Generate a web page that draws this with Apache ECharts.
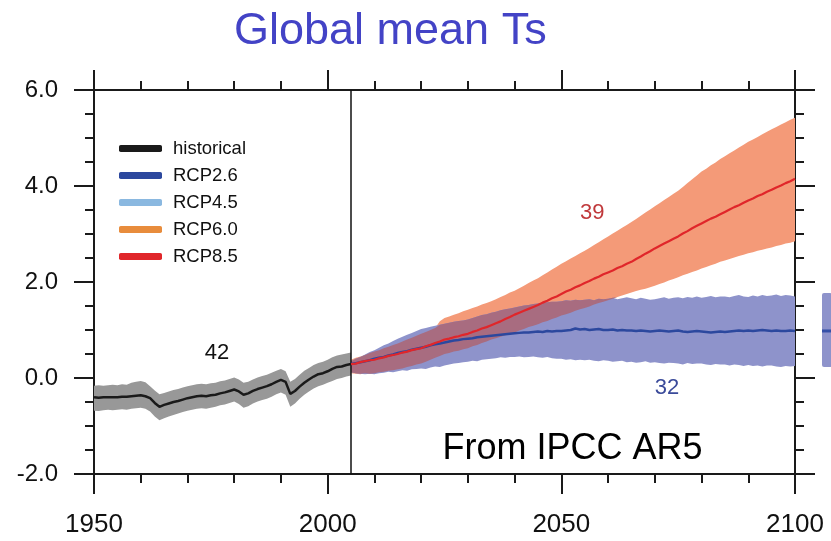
<!DOCTYPE html>
<html><head><meta charset="utf-8">
<script src="https://cdn.jsdelivr.net/npm/echarts@6/dist/echarts.min.js"></script>
<style>html,body{margin:0;padding:0;background:#fff}#c{width:831px;height:541px}</style>
</head><body><div id="c"></div>
<script>
// ---------- data ----------
const histStart = 1950;   // historical: 1950..2005 annual
const projStart = 2005;   // projections: 2005..2100 annual
const dividerYear = 2005;

const histMean = [
 -0.40,-0.41,-0.40,-0.40,-0.40, -0.40,-0.39,-0.39,-0.38,-0.37,
 -0.36,-0.38,-0.42,-0.52,-0.60, -0.56,-0.53,-0.50,-0.48,-0.45,
 -0.42,-0.40,-0.38,-0.37,-0.38, -0.36,-0.35,-0.32,-0.30,-0.27,
 -0.24,-0.28,-0.35,-0.32,-0.27, -0.23,-0.20,-0.17,-0.13,-0.08,
 -0.04,-0.08,-0.33,-0.27,-0.18, -0.10,-0.03, 0.03, 0.08, 0.10,
  0.14, 0.19, 0.23, 0.24, 0.27,  0.29];
const histLo = [
 -0.68,-0.69,-0.67,-0.66,-0.67, -0.66,-0.65,-0.66,-0.64,-0.63,
 -0.62,-0.64,-0.70,-0.80,-0.88, -0.84,-0.80,-0.77,-0.74,-0.71,
 -0.68,-0.66,-0.64,-0.63,-0.64, -0.62,-0.60,-0.57,-0.55,-0.52,
 -0.49,-0.54,-0.62,-0.59,-0.53, -0.49,-0.46,-0.43,-0.39,-0.34,
 -0.30,-0.35,-0.60,-0.53,-0.43, -0.35,-0.28,-0.22,-0.17,-0.14,
 -0.10,-0.06,-0.02, 0.00, 0.03,  0.05];
const histHi = [
 -0.16,-0.15,-0.16,-0.15,-0.14, -0.15,-0.13,-0.14,-0.10,-0.08,
 -0.06,-0.09,-0.17,-0.26,-0.34, -0.31,-0.28,-0.25,-0.23,-0.20,
 -0.17,-0.15,-0.13,-0.12,-0.13, -0.11,-0.10,-0.07,-0.05,-0.02,
  0.01,-0.03,-0.10,-0.08,-0.03,  0.01, 0.04, 0.07, 0.11, 0.15,
  0.19, 0.14,-0.08,-0.02, 0.07,  0.15, 0.21, 0.27, 0.31, 0.34,
  0.38, 0.43, 0.47, 0.49, 0.51,  0.53];

const r85Mean = [
 0.29,0.30,0.33,0.35,0.37, 0.38,0.41,0.43,0.46,0.48,
 0.50,0.53,0.55,0.58,0.60, 0.62,0.66,0.69,0.73,0.76,
 0.80,0.82,0.85,0.87,0.90, 0.92,0.96,0.99,1.03,1.06,
 1.10,1.14,1.18,1.23,1.27, 1.32,1.36,1.40,1.44,1.48,
 1.52,1.57,1.61,1.66,1.70, 1.75,1.80,1.84,1.89,1.93,
 1.98,2.02,2.07,2.11,2.16, 2.20,2.24,2.29,2.33,2.38,
 2.42,2.48,2.53,2.59,2.64, 2.70,2.75,2.80,2.85,2.90,
 2.95,3.01,3.06,3.12,3.17, 3.22,3.27,3.32,3.36,3.41,
 3.46,3.51,3.56,3.60,3.65, 3.70,3.74,3.79,3.83,3.88,
 3.92,3.97,4.01,4.06,4.10, 4.15];
const r85Hi = [
 0.38,0.42,0.45,0.48,0.52, 0.55,0.58,0.62,0.65,0.69,
 0.72,0.76,0.80,0.84,0.88, 0.92,0.96,1.00,1.04,1.18,
 1.25,1.28,1.32,1.35,1.39, 1.42,1.46,1.49,1.53,1.56,
 1.60,1.64,1.69,1.73,1.78, 1.82,1.87,1.92,1.98,2.03,
 2.08,2.14,2.20,2.26,2.32, 2.38,2.43,2.49,2.54,2.60,
 2.65,2.71,2.77,2.83,2.89, 2.95,3.01,3.07,3.13,3.19,
 3.25,3.31,3.38,3.45,3.51, 3.58,3.64,3.71,3.77,3.84,
 3.90,3.98,4.06,4.14,4.22, 4.30,4.36,4.43,4.49,4.56,
 4.62,4.68,4.74,4.80,4.86, 4.92,4.97,5.02,5.08,5.13,
 5.18,5.23,5.28,5.33,5.38, 5.42];
const r85Lo = [
 0.10,0.09,0.08,0.10,0.09, 0.10,0.12,0.13,0.15,0.16,
 0.18,0.20,0.23,0.25,0.28, 0.30,0.34,0.38,0.42,0.46,
 0.50,0.52,0.55,0.57,0.60, 0.62,0.66,0.69,0.73,0.76,
 0.80,0.83,0.86,0.89,0.92, 0.95,0.99,1.02,1.06,1.09,
 1.12,1.16,1.19,1.23,1.26, 1.30,1.33,1.36,1.40,1.43,
 1.46,1.49,1.53,1.56,1.59, 1.62,1.65,1.69,1.72,1.75,
 1.78,1.81,1.84,1.86,1.89, 1.92,1.96,1.99,2.03,2.06,
 2.10,2.14,2.17,2.21,2.24, 2.28,2.31,2.35,2.38,2.42,
 2.45,2.48,2.51,2.54,2.57, 2.60,2.62,2.65,2.67,2.70,
 2.72,2.75,2.77,2.80,2.82, 2.85];

const r26Mean = [
 0.29,0.31,0.33,0.35,0.37, 0.40,0.42,0.44,0.47,0.49,
 0.52,0.54,0.56,0.59,0.61, 0.63,0.65,0.68,0.70,0.72,
 0.74,0.76,0.78,0.79,0.81, 0.82,0.83,0.85,0.86,0.87,
 0.88,0.89,0.90,0.91,0.92, 0.93,0.94,0.95,0.95,0.96,
 0.97,0.96,0.98,0.97,0.98, 0.98,0.99,1.00,1.03,1.01,
 1.02,1.00,1.01,1.02,1.00, 1.00,1.01,0.99,1.00,0.99,
 0.99,0.98,0.99,0.98,0.97, 0.98,0.99,0.98,0.97,0.98,
 0.99,0.97,0.96,0.97,0.98, 0.97,0.96,0.95,0.96,0.97,
 0.96,0.97,0.98,0.99,0.98, 0.99,0.98,0.99,1.00,0.99,
 0.98,0.99,0.98,0.98,0.99, 0.98];
const r26Hi = [
 0.35,0.40,0.44,0.49,0.54, 0.58,0.63,0.68,0.72,0.77,
 0.82,0.86,0.90,0.94,0.98, 1.02,1.04,1.07,1.09,1.11,
 1.13,1.15,1.17,1.19,1.20, 1.22,1.25,1.28,1.31,1.33,
 1.36,1.38,1.41,1.43,1.45, 1.47,1.49,1.51,1.52,1.54,
 1.55,1.57,1.58,1.59,1.59, 1.60,1.62,1.61,1.63,1.62,
 1.63,1.64,1.62,1.65,1.64, 1.65,1.67,1.64,1.66,1.68,
 1.66,1.64,1.67,1.65,1.63, 1.64,1.66,1.68,1.65,1.67,
 1.68,1.66,1.69,1.67,1.70, 1.67,1.69,1.71,1.68,1.70,
 1.70,1.68,1.71,1.73,1.70, 1.69,1.72,1.70,1.73,1.71,
 1.72,1.74,1.71,1.73,1.72, 1.70];
const r26Lo = [
 0.12,0.10,0.09,0.08,0.09, 0.08,0.10,0.11,0.13,0.12,
 0.14,0.16,0.15,0.18,0.19, 0.20,0.19,0.22,0.24,0.23,
 0.26,0.28,0.30,0.31,0.33, 0.34,0.36,0.35,0.38,0.39,
 0.40,0.41,0.43,0.42,0.44, 0.44,0.45,0.43,0.44,0.45,
 0.43,0.42,0.44,0.41,0.40, 0.40,0.38,0.39,0.37,0.38,
 0.37,0.38,0.36,0.35,0.37, 0.36,0.34,0.35,0.36,0.33,
 0.34,0.32,0.33,0.35,0.32, 0.33,0.31,0.30,0.32,0.31,
 0.30,0.28,0.31,0.29,0.30, 0.30,0.28,0.27,0.29,0.28,
 0.28,0.26,0.28,0.27,0.25, 0.27,0.25,0.26,0.24,0.26,
 0.26,0.24,0.23,0.25,0.24, 0.25];

// partly visible 2081-2100 range bar for RCP2.6 at the right edge
const sideLo = 0.23, sideHi = 1.77, sideMean = 0.98;

const legendNames = ['historical', 'RCP2.6', 'RCP4.5', 'RCP6.0', 'RCP8.5'];
const modelCounts = { historical: '42', rcp85: '39', rcp26: '32' };
const noteText = 'From IPCC AR5';
const titleText = 'Global mean Ts';

// ---------- build ----------
const histYears = histMean.map((_, i) => histStart + i);
const projYears = r85Mean.map((_, i) => projStart + i);
const pairs = (xs, ys) => xs.map((x, i) => [x, ys[i]]);
const ovLo = r26Lo.map((v, i) => Math.max(v, r85Lo[i]));
const ovHi = r26Hi.map((v, i) => Math.max(ovLo[i], Math.min(v, r85Hi[i])));

const FONT = 'Liberation Sans, Arial, Helvetica, sans-serif';

function band(xs, lo, hi, fill, z) {
  return {
    type: 'custom', silent: true, z: z,
    data: [[xs[0], lo[0]]], encode: { x: 0, y: 1 },
    renderItem: function (p, api) {
      const pts = [];
      for (let i = 0; i < xs.length; i++) pts.push(api.coord([xs[i], hi[i]]));
      for (let i = xs.length - 1; i >= 0; i--) pts.push(api.coord([xs[i], lo[i]]));
      return { type: 'polygon', shape: { points: pts }, style: { fill: fill } };
    }
  };
}

function annot(coord, text, color, size) {
  return { coord: coord, name: text, label: { color: color, fontSize: size } };
}

const axisLineStyle = { color: '#1a1a1a', width: 2 };
const tickCommon = { show: true, length: 20, lineStyle: { color: '#1a1a1a', width: 2 } };
const minorCommon = { show: true, length: 9, lineStyle: { color: '#1a1a1a', width: 2 } };

const option = {
  animation: false,
  backgroundColor: '#ffffff',
  title: {
    text: titleText, left: 229, top: 4,
    textStyle: { color: '#4343c6', fontSize: 45, fontWeight: 'normal', fontFamily: FONT }
  },
  legend: {
    orient: 'vertical', left: 114, top: 134,
    itemWidth: 43, itemHeight: 7, itemGap: 8, icon: 'roundRect',
    selectedMode: false,
    textStyle: { fontSize: 18.5, lineHeight: 18, color: '#111', fontFamily: FONT, padding: [0, 0, 0, 6] },
    data: legendNames
  },
  grid: [
    { left: 94, right: 36, top: 90, bottom: 67 },
    { left: 822, top: 90, width: 40, height: 384 }
  ],
  xAxis: [
    {
      type: 'value', gridIndex: 0, position: 'bottom', min: 1950, max: 2100, interval: 50,
      axisLine: { onZero: false, lineStyle: axisLineStyle },
      axisTick: tickCommon, minorTick: Object.assign({ splitNumber: 5 }, minorCommon),
      splitLine: { show: false },
      axisLabel: { fontSize: 26, color: '#111', fontFamily: FONT, margin: 38, formatter: v => String(v) }
    },
    {
      type: 'value', gridIndex: 0, position: 'top', min: 1950, max: 2100, interval: 50,
      axisLine: { onZero: false, lineStyle: axisLineStyle },
      axisTick: tickCommon, minorTick: Object.assign({ splitNumber: 5 }, minorCommon),
      splitLine: { show: false }, axisLabel: { show: false }
    },
    { type: 'value', gridIndex: 1, min: 0, max: 1, show: false }
  ],
  yAxis: [
    {
      type: 'value', gridIndex: 0, position: 'left', min: -2, max: 6, interval: 2,
      axisLine: { onZero: false, lineStyle: axisLineStyle },
      axisTick: tickCommon, minorTick: Object.assign({ splitNumber: 4 }, minorCommon),
      splitLine: { show: false },
      axisLabel: { fontSize: 24, color: '#111', fontFamily: FONT, margin: 36, formatter: v => v.toFixed(1) }
    },
    {
      type: 'value', gridIndex: 0, position: 'right', min: -2, max: 6, interval: 2,
      axisLine: { onZero: false, lineStyle: axisLineStyle },
      axisTick: tickCommon, minorTick: Object.assign({ splitNumber: 4 }, minorCommon),
      splitLine: { show: false }, axisLabel: { show: false }
    },
    { type: 'value', gridIndex: 1, min: -2, max: 6, show: false }
  ],
  series: [
    band(histYears, histLo, histHi, '#989898', 1),
    band(projYears, r85Lo, r85Hi, '#f49a78', 1),
    band(projYears, r26Lo, r26Hi, '#8e93cb', 1),
    band(projYears, ovLo, ovHi, '#a86c80', 1),
    {
      type: 'custom', silent: true, xAxisIndex: 2, yAxisIndex: 2, clip: false,
      data: [[0, sideLo]], encode: { x: 0, y: 1 },
      renderItem: function (p, api) {
        const a = api.coord([0, sideHi]), b = api.coord([1, sideLo]);
        const m0 = api.coord([0, sideMean]), m1 = api.coord([1, sideMean]);
        return { type: 'group', children: [
          { type: 'rect', shape: { x: a[0], y: a[1], width: b[0] - a[0], height: b[1] - a[1], r: 2 }, style: { fill: '#8e93cb' } },
          { type: 'line', shape: { x1: m0[0], y1: m0[1], x2: m1[0], y2: m1[1] }, style: { stroke: '#3550a8', lineWidth: 3 } }
        ]};
      }
    },
    {
      name: 'historical', type: 'line', z: 5, showSymbol: false, symbol: 'none',
      data: pairs(histYears, histMean),
      itemStyle: { color: '#1a1a1a' }, lineStyle: { color: '#1a1a1a', width: 2.5 },
      markLine: {
        silent: true, symbol: 'none', label: { show: false },
        lineStyle: { color: '#111', width: 1.5, type: 'solid' },
        data: [{ xAxis: dividerYear }]
      },
      markPoint: {
        symbol: 'circle', symbolSize: 1, itemStyle: { color: 'rgba(0,0,0,0)' },
        label: { show: true, position: 'inside', formatter: p => p.name, fontFamily: FONT },
        data: [
          annot([1976.3, 0.52], modelCounts.historical, '#111', 22),
          annot([2052.4, -1.48], noteText, '#000', 36)
        ]
      }
    },
    {
      name: 'RCP2.6', type: 'line', z: 5, showSymbol: false, symbol: 'none',
      data: pairs(projYears, r26Mean),
      itemStyle: { color: '#2c489e' }, lineStyle: { color: '#2c489e', width: 2.5 },
      markPoint: {
        symbol: 'circle', symbolSize: 1, itemStyle: { color: 'rgba(0,0,0,0)' },
        label: { show: true, position: 'inside', formatter: p => p.name, fontFamily: FONT },
        data: [annot([2072.6, -0.21], modelCounts.rcp26, '#3a4a9a', 22)]
      }
    },
    { name: 'RCP4.5', type: 'line', data: [], itemStyle: { color: '#8ab8e0' }, lineStyle: { color: '#8ab8e0' } },
    { name: 'RCP6.0', type: 'line', data: [], itemStyle: { color: '#e88c3c' }, lineStyle: { color: '#e88c3c' } },
    {
      name: 'RCP8.5', type: 'line', z: 6, showSymbol: false, symbol: 'none',
      data: pairs(projYears, r85Mean),
      itemStyle: { color: '#e0262a' }, lineStyle: { color: '#e0262a', width: 2.2 },
      markPoint: {
        symbol: 'circle', symbolSize: 1, itemStyle: { color: 'rgba(0,0,0,0)' },
        label: { show: true, position: 'inside', formatter: p => p.name, fontFamily: FONT },
        data: [annot([2056.6, 3.44], modelCounts.rcp85, '#c0393b', 22)]
      }
    }
  ]
};

const chart = echarts.init(document.getElementById('c'), null, { renderer: 'canvas' });
chart.setOption(option);
</script>
</body></html>
